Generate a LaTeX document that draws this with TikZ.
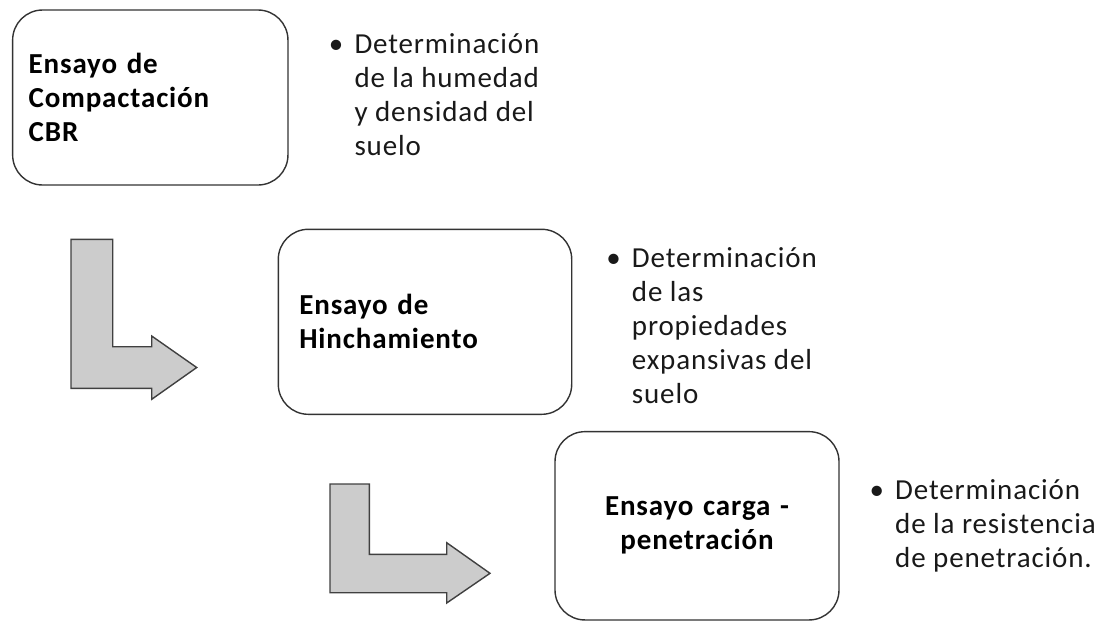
\documentclass[tikz,border=0pt]{standalone}
\usepackage{fontspec}
\setmainfont{Carlito}[LetterSpace=3]
\begin{document}
\begin{tikzpicture}[x=1pt,y=-1pt,
  stagebox/.style={draw=black!80, line width=1.4pt, rounded corners=30pt, fill=white,
    font=\bfseries\fontsize{29}{34}\selectfont, inner ysep=0pt},
  bullettext/.style={anchor=base west, inner sep=0pt, text=black!90, font=\fontsize{29}{34}\selectfont},
  bentarrow/.style={draw=black!75, line width=1.4pt, fill=black!20, line join=miter}
]
\useasboundingbox (0,0) rectangle (1110,622);
\newcommand{\bul}{\makebox[36.6pt][c]{\textbullet}}
% boxes
\node[stagebox, text width=243.3pt, inner xsep=16pt, minimum height=175pt, align=left]
  (box1) at (150.3,97.5) {Ensayo de\\Compactación\\CBR};
\node[stagebox, text width=251.4pt, inner xsep=21pt, minimum height=185pt, align=left]
  (box2) at (425,321.8) {Ensayo de\\Hinchamiento};
\node[stagebox, text width=252pt, inner xsep=16pt, minimum height=188.3pt, align=center]
  (box3) at (697,525.8) {Ensayo carga -\\penetración};
% bullet texts
\node[bullettext] (t1) at (317.7,53.3) {\begin{tabular}[t]{@{}l@{}}\bul Determinación\\\hspace{36.6pt}de la humedad\\\hspace{36.6pt}y densidad del\\\hspace{36.6pt}suelo\end{tabular}};
\node[bullettext] (t2) at (595.1,267.7) {\begin{tabular}[t]{@{}l@{}}\bul Determinación\\\hspace{36.6pt}de las\\\hspace{36.6pt}propiedades\\\hspace{36.6pt}expansivas del\\\hspace{36.6pt}suelo\end{tabular}};
\node[bullettext] (t3) at (858.4,499.3) {\begin{tabular}[t]{@{}l@{}}\bul Determinación\\\hspace{36.6pt}de la resistencia\\\hspace{36.6pt}de penetración.\end{tabular}};
% bent arrows
\draw[bentarrow] (71,239.3) -- (112.7,239.3) -- (112.7,346.7) -- (151.7,346.7) -- (151.7,336)
  -- (196.7,367.5) -- (151.7,399.3) -- (151.7,388.3) -- (71,388.3) -- cycle;
\draw[bentarrow] (330,484) -- (369.3,484) -- (369.3,554.3) -- (446.7,554.3) -- (446.7,542.7)
  -- (490,573.3) -- (446.7,603) -- (446.7,592.7) -- (330,592.7) -- cycle;
\end{tikzpicture}
\end{document}
